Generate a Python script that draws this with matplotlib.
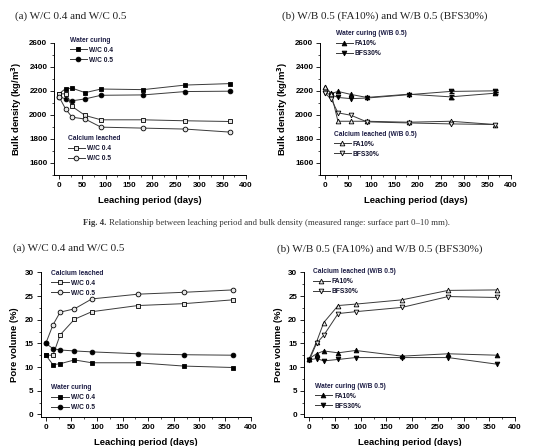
import matplotlib.pyplot as plt
from matplotlib.legend import Legend
from matplotlib.ticker import MultipleLocator

# leaching period (days)
days = [0, 14, 28, 56, 90, 180, 270, 365]

# bulk density (kg/m3), fig 4
bd_wc04_water = [2175, 2218, 2222, 2185, 2215, 2210, 2248, 2260]
bd_wc05_water = [2152, 2133, 2117, 2133, 2163, 2166, 2194, 2197]
bd_wc04_leach = [2175, 2175, 2070, 1995, 1959, 1959, 1951, 1945]
bd_wc05_leach = [2152, 2050, 1981, 1965, 1898, 1890, 1882, 1857]

bd_fa_water = [2233, 2178, 2195, 2170, 2145, 2172, 2150, 2180]
bd_bfs_water = [2183, 2165, 2145, 2135, 2140, 2168, 2195, 2200]
bd_fa_leach = [2233, 2170, 1947, 1947, 1947, 1939, 1947, 1920]
bd_bfs_leach = [2183, 2128, 2017, 1997, 1942, 1933, 1925, 1920]
# error bars at 270 and 365 days (water curing)
bd_fa_err = [15, 8]
bd_bfs_err = [12, 8]

# pore volume (%)
pv_wc04_leach = [12.5, 12.5, 16.8, 20.1, 21.7, 23.0, 23.4, 24.2]
pv_wc05_leach = [15.0, 18.9, 21.6, 22.3, 24.4, 25.4, 25.8, 26.3]
pv_wc04_water = [12.5, 10.5, 10.7, 11.5, 10.9, 10.9, 10.2, 9.9]
pv_wc05_water = [15.0, 13.9, 13.6, 13.4, 13.2, 12.8, 12.6, 12.5]

pv_fa_leach = [11.8, 15.3, 19.4, 23.0, 23.3, 24.2, 26.2, 26.3]
pv_bfs_leach = [11.5, 15.0, 16.7, 21.3, 21.7, 22.6, 24.9, 24.7]
pv_fa_water = [11.8, 12.8, 13.4, 13.0, 13.5, 12.3, 12.8, 12.5]
pv_bfs_water = [11.5, 11.8, 11.3, 11.6, 12.0, 12.0, 12.0, 10.6]

plt.rcParams['font.family'] = ['Liberation Sans', 'DejaVu Sans']
plt.rcParams['font.weight'] = 'bold'
plt.rcParams['mathtext.default'] = 'bf'

LC = '#3a3a3a'
TITLE_C = '#1e1e46'
HOLLOW = '#e6e6e6'

fig = plt.figure(figsize=(5.41, 4.46), dpi=100)


def style_axes(ax, ylabel, ylim, ymajor, yminor):
    ax.set_xlim(-10, 400)
    ax.set_ylim(*ylim)
    ax.xaxis.set_major_locator(MultipleLocator(50))
    ax.xaxis.set_minor_locator(MultipleLocator(25))
    ax.yaxis.set_major_locator(MultipleLocator(ymajor))
    ax.yaxis.set_minor_locator(MultipleLocator(yminor))
    for s in ['top', 'right']:
        ax.spines[s].set_visible(False)
    for s in ['left', 'bottom']:
        ax.spines[s].set_linewidth(0.7)
    ax.tick_params(which='major', direction='out', length=3, width=0.6, labelsize=5.8, pad=2)
    ax.tick_params(which='minor', direction='out', length=1.6, width=0.5)
    ax.set_xlabel('Leaching period (days)', fontsize=6.8, fontweight='bold', labelpad=5)
    ax.set_ylabel(ylabel, fontsize=6.8, fontweight='bold', labelpad=4)


def series(ax, y, marker, filled, label):
    fc = 'black' if filled else HOLLOW
    line, = ax.plot(days, y, color=LC, lw=0.7, marker=marker, ms=3.4,
                    mfc=fc, mec='black', mew=0.6, label=label)
    return line


def legend(ax, handles, title, x, y):
    lg = Legend(ax, handles, [h.get_label() for h in handles], title=title,
                loc='upper left', bbox_to_anchor=(x, y), frameon=False,
                fontsize=4.8, title_fontsize=4.8, handlelength=2.6,
                handletextpad=0.3, labelspacing=0.45, borderpad=0,
                borderaxespad=0, alignment='left')
    lg.get_title().set_color(TITLE_C)
    lg.get_title().set_fontweight('bold')
    for t in lg.get_texts():
        t.set_color('#151530')
    ax.add_artist(lg)
    return lg


# ---- (a) bulk density W/C
ax1 = fig.add_axes([0.1004, 0.6076, 0.3543, 0.2966])
style_axes(ax1, 'Bulk density (kg/m$^3$)', (1500, 2600), 200, 100)
w1 = series(ax1, bd_wc04_water, 's', True, 'W/C 0.4')
w2 = series(ax1, bd_wc05_water, 'o', True, 'W/C 0.5')
l1 = series(ax1, bd_wc04_leach, 's', False, 'W/C 0.4')
l2 = series(ax1, bd_wc05_leach, 'o', False, 'W/C 0.5')
legend(ax1, [w1, w2], 'Water curing', 0.08, 1.045)
legend(ax1, [l1, l2], 'Calcium leached', 0.07, 0.30)

# ---- (b) bulk density W/B
ax2 = fig.add_axes([0.592, 0.6076, 0.3525, 0.2966])
style_axes(ax2, 'Bulk density (kg/m$^3$)', (1500, 2600), 200, 100)
w3 = series(ax2, bd_fa_water, '^', True, 'FA10%')
w4 = series(ax2, bd_bfs_water, 'v', True, 'BFS30%')
l3 = series(ax2, bd_fa_leach, '^', False, 'FA10%')
l4 = series(ax2, bd_bfs_leach, 'v', False, 'BFS30%')
ax2.errorbar(days[6:], bd_fa_water[6:], yerr=bd_fa_err, fmt='none', ecolor='black', elinewidth=0.6, capsize=1.8)
ax2.errorbar(days[6:], bd_bfs_water[6:], yerr=bd_bfs_err, fmt='none', ecolor='black', elinewidth=0.6, capsize=1.8)
legend(ax2, [w3, w4], 'Water curing (W/B 0.5)', 0.08, 1.095)
legend(ax2, [l3, l4], 'Calcium leached (W/B 0.5)', 0.07, 0.335)

# ---- (a) pore volume W/C
ax3 = fig.add_axes([0.0752, 0.0657, 0.388, 0.3235])
style_axes(ax3, 'Pore volume (%)', (-0.5, 30), 5, 2.5)
l5 = series(ax3, pv_wc04_leach, 's', False, 'W/C 0.4')
l6 = series(ax3, pv_wc05_leach, 'o', False, 'W/C 0.5')
w5 = series(ax3, pv_wc04_water, 's', True, 'W/C 0.4')
w6 = series(ax3, pv_wc05_water, 'o', True, 'W/C 0.5')
legend(ax3, [l5, l6], 'Calcium leached', 0.05, 1.02)
legend(ax3, [w5, w6], 'Water curing', 0.05, 0.225)

# ---- (b) pore volume W/B
ax4 = fig.add_axes([0.5623, 0.0657, 0.3896, 0.3235])
style_axes(ax4, 'Pore volume (%)', (-0.5, 30), 5, 2.5)
l7 = series(ax4, pv_fa_leach, '^', False, 'FA10%')
l8 = series(ax4, pv_bfs_leach, 'v', False, 'BFS30%')
w7 = series(ax4, pv_fa_water, '^', True, 'FA10%')
w8 = series(ax4, pv_bfs_water, 'v', True, 'BFS30%')
legend(ax4, [l7, l8], 'Calcium leached (W/B 0.5)', 0.04, 1.03)
legend(ax4, [w7, w8], 'Water curing (W/B 0.5)', 0.05, 0.235)

# titles and caption
serif = ['Liberation Serif', 'DejaVu Serif']
tkw = dict(family=serif, fontsize=8, fontweight='normal', color='#222222', va='center', ha='left')
fig.text(15 / 541, 1 - 16 / 446, '(a) W/C 0.4 and W/C 0.5', **tkw)
fig.text(282 / 541, 1 - 16 / 446, '(b) W/B 0.5 (FA10%) and W/B 0.5 (BFS30%)', **tkw)
fig.text(13 / 541, 1 - 248 / 446, '(a) W/C 0.4 and W/C 0.5', **tkw)
fig.text(277 / 541, 1 - 249 / 446, '(b) W/B 0.5 (FA10%) and W/B 0.5 (BFS30%)', **tkw)

fig.text(106 / 541, 1 - 223 / 446, 'Fig. 4.', family=serif, fontsize=6.3,
         fontweight='bold', color='#333333', va='center', ha='right')
fig.text(109 / 541, 1 - 223 / 446,
         'Relationship between leaching period and bulk density (measured range: surface part 0\u201310 mm).',
         family=serif, fontsize=6.3, fontweight='normal', color='#333333', va='center', ha='left')

fig.savefig('out.png', dpi=100)
